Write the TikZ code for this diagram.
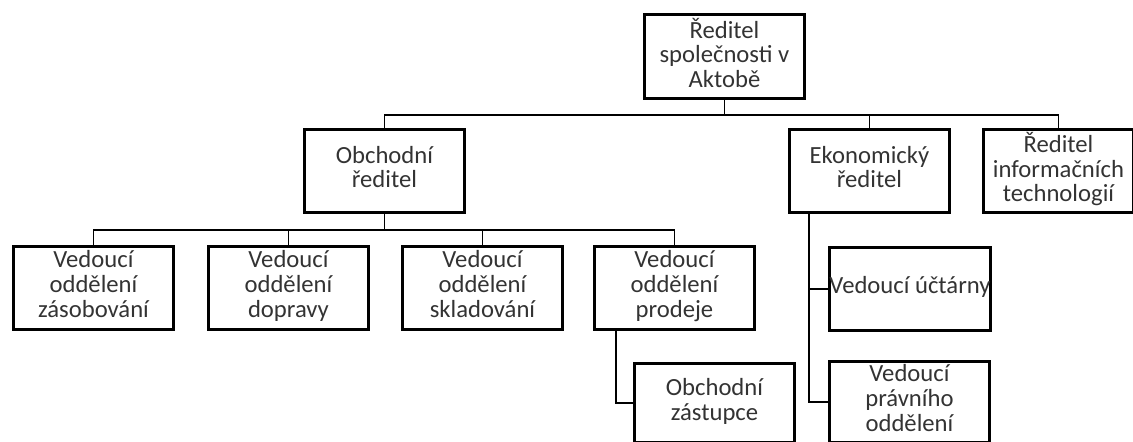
\documentclass[tikz,border=0pt]{standalone}
\usepackage{fontspec}
\setmainfont{Carlito}
\usepackage{tikz}
\usetikzlibrary{positioning,calc}

\begin{document}
\begin{tikzpicture}[
    x=0.75pt, y=-0.75pt,
    box/.style={rectangle, draw, line width=2.2pt, anchor=north west,
        minimum width=120pt, minimum height=62pt, inner sep=0pt, align=center,
        text=black!80, font=\fontsize{18.5}{18.5}\selectfont,
        execute at begin node=\strut, execute at end node=\strut},
    link/.style={draw, line width=1.4pt}
]
    \useasboundingbox (0,0) rectangle (1133,442);

    \node[box, minimum height=63pt] (ceo) at (643,13) {Ředitel\\společnosti v\\Aktobě};
    \node[box] (obch) at (303,128) {Obchodní\\ředitel};
    \node[box] (eko) at (788,128) {Ekonomický\\ředitel};
    \node[box, minimum width=112.5pt] (it) at (982,128) {Ředitel\\informačních\\technologií};

    \node[box] (zas) at (12,245) {Vedoucí\\oddělení\\zásobování};
    \node[box] (dop) at (207,245) {Vedoucí\\oddělení\\dopravy};
    \node[box] (skl) at (401,245) {Vedoucí\\oddělení\\skladování};
    \node[box] (prod) at (593,245) {Vedoucí\\oddělení\\prodeje};

    \node[box] (ucet) at (828,246) {Vedoucí účtárny};
    \node[box, minimum height=59.5pt] (zast) at (633,362) {Obchodní\\zástupce};
    \node[box, minimum height=60.5pt] (prav) at (828,360) {Vedoucí\\právního\\oddělení};

    % upper level
    \coordinate (bus1) at ($(ceo.south)+(0,15)$);
    \draw[link] (ceo) -- (bus1);
    \draw[link] (bus1) -| (obch.north);
    \draw[link] (bus1) -| (eko.north);
    \draw[link] (bus1) -| (it.north);

    % sales departments
    \coordinate (bus2) at ($(obch.south)+(0,16)$);
    \draw[link] (obch) -- (bus2);
    \foreach \n in {zas,dop,skl,prod}
        \draw[link] (bus2) -| (\n.north);
    \draw[link] ([xshift=17]prod.south west) |- (zast.west);

    % economic departments
    \draw[link] ([xshift=16]eko.south west) |- (ucet.west);
    \draw[link] ([xshift=16]eko.south west) |- (prav.west);
\end{tikzpicture}
\end{document}
